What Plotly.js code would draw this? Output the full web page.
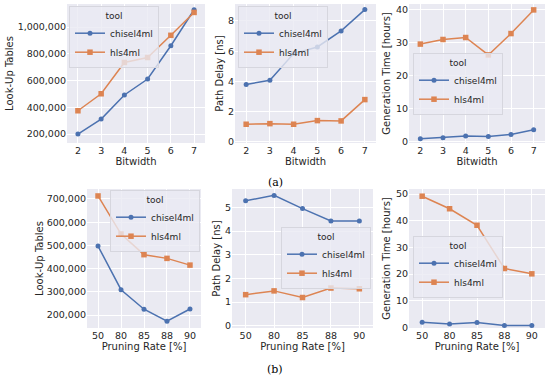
<!DOCTYPE html>
<html>
<head>
<meta charset="utf-8">
<script src="https://cdn.plot.ly/plotly-3.0.1.min.js"></script>
<style>html,body{margin:0;padding:0;background:#fff;}#chart{width:550px;height:379px;}</style>
</head>
<body>
<div id="chart"></div>
<script>
// ---- data ----
const tools = ["chisel4ml", "hls4ml"];
const bitwidths = [2, 3, 4, 5, 6, 7];
const pruningRates = ["50", "80", "85", "88", "90"];

const lutBitChisel = [200000, 312000, 492000, 611000, 860000, 1129000];
const lutBitHls = [374000, 501000, 735000, 772000, 938000, 1109000];
const delayBitChisel = [3.8, 4.08, 5.84, 6.28, 7.34, 8.75];
const delayBitHls = [1.17, 1.21, 1.17, 1.41, 1.39, 2.8];
const genBitChisel = [0.8, 1.1, 1.6, 1.5, 2.1, 3.5];
const genBitHls = [29.6, 31.0, 31.6, 26.3, 32.8, 40.0];

const lutPruneChisel = [497000, 309000, 225000, 173000, 226000];
const lutPruneHls = [713000, 549000, 460000, 444000, 415000];
const delayPruneChisel = [5.28, 5.51, 4.95, 4.43, 4.43];
const delayPruneHls = [1.31, 1.47, 1.19, 1.59, 1.56];
const genPruneChisel = [2.0, 1.3, 1.9, 0.75, 0.75];
const genPruneHls = [49.2, 44.5, 38.3, 22.1, 20.1];

const xLabels = ["Bitwidth", "Pruning Rate [%]"];
const yLabels = ["Look-Up Tables", "Path Delay [ns]", "Generation Time [hours]"];
const subLabels = ["(a)", "(b)"];

// ---- styling ----
const BLUE = "#4C72B0", ORANGE = "#DD8452", TXT = "#262626";
const W = 550, H = 379;
const FONT = "DejaVu Sans, sans-serif";

const panels = [
  {x: bitwidths, c: lutBitChisel, h: lutBitHls, xd: [67, 205], yd: [4, 143], yr: [133000, 1172000], dt: 200000, fmt: ",", xr: [1.53, 7.47], yl: 0, xl: 0, leg: [69, 6, "left"], so: 2},
  {x: bitwidths, c: delayBitChisel, h: delayBitHls, xd: [235, 376], yd: [4, 143], yr: [-0.07, 9.12], dt: 2, fmt: "", xr: [1.53, 7.47], yl: 1, xl: 0, leg: [238, 6, "left"], so: 2},
  {x: bitwidths, c: genBitChisel, h: genBitHls, xd: [409, 545], yd: [4, 143], yr: [-0.5, 41.8], dt: 10, fmt: "", xr: [1.5, 7.5], yl: 2, xl: 0, leg: [413, 53, "left"], so: 3},
  {x: pruningRates, c: lutPruneChisel, h: lutPruneHls, xd: [87, 201], yd: [189, 328], yr: [144000, 743000], dt: 100000, fmt: ",", xr: [-0.48, 4.48], yl: 0, xl: 1, leg: [200, 190, "right"], so: null},
  {x: pruningRates, c: delayPruneChisel, h: delayPruneHls, xd: [232, 373], yd: [189, 328], yr: [-0.1, 5.78], dt: 1, fmt: "", xr: [-0.48, 4.48], yl: 1, xl: 1, leg: [371, 227, "right"], so: 2},
  {x: pruningRates, c: genPruneChisel, h: genPruneHls, xd: [409, 545], yd: [189, 328], yr: [-0.2, 51.9], dt: 10, fmt: "", xr: [-0.48, 4.48], yl: 2, xl: 1, leg: [413, 236, "left"], so: 3}
];

const data = [];
const layout = {
  width: W, height: H,
  margin: {l: 0, r: 0, t: 0, b: 0},
  paper_bgcolor: "#ffffff",
  plot_bgcolor: "#EAEAF2",
  font: {family: FONT, size: 9, color: TXT},
  showlegend: true,
  annotations: []
};

panels.forEach((p, i) => {
  const n = i + 1;
  const xa = n === 1 ? "x" : "x" + n;
  const ya = n === 1 ? "y" : "y" + n;
  const lg = n === 1 ? "legend" : "legend" + n;
  data.push({
    x: p.x, y: p.c, name: tools[0], type: "scatter", mode: "lines+markers",
    xaxis: xa, yaxis: ya, legend: lg,
    line: {color: BLUE, width: 1.5}, marker: {symbol: "circle", size: 5, color: BLUE}
  });
  data.push({
    x: p.x, y: p.h, name: tools[1], type: "scatter", mode: "lines+markers",
    xaxis: xa, yaxis: ya, legend: lg,
    line: {color: ORANGE, width: 1.5}, marker: {symbol: "square", size: 5.5, color: ORANGE}
  });
  const xkey = n === 1 ? "xaxis" : "xaxis" + n;
  const ykey = n === 1 ? "yaxis" : "yaxis" + n;
  layout[xkey] = {
    domain: [p.xd[0] / W, p.xd[1] / W],
    anchor: ya,
    type: p.xl === 1 ? "category" : "linear",
    range: p.xr,
    dtick: 1,
    showgrid: true, gridcolor: "#ffffff", gridwidth: 1,
    zeroline: false, showline: false, ticks: "",
    tickfont: {size: 9.5, color: TXT},
    title: {text: xLabels[p.xl], font: {size: 10, color: TXT}, standoff: 2}
  };
  const ytitle = {text: yLabels[p.yl], font: {size: 10, color: TXT}};
  if (p.so !== null) ytitle.standoff = p.so;
  layout[ykey] = {
    domain: [1 - p.yd[1] / H, 1 - p.yd[0] / H],
    anchor: xa,
    range: p.yr,
    dtick: p.dt, tick0: 0,
    tickformat: p.fmt,
    separatethousands: true,
    showgrid: true, gridcolor: "#ffffff", gridwidth: 1,
    zeroline: false, showline: false, ticks: "",
    tickfont: {size: 9.5, color: TXT},
    title: ytitle
  };
  layout[lg] = {
    x: p.leg[0] / W, y: 1 - p.leg[1] / H, xanchor: p.leg[2], yanchor: "top",
    bgcolor: "rgba(234,234,242,0.8)", bordercolor: "#d6d6de", borderwidth: 1,
    font: {size: 9, color: TXT},
    title: {text: "tool", side: "top center", font: {size: 9, color: TXT}},
    itemwidth: 30, tracegroupgap: 0
  };
});

layout.annotations.push({
  text: subLabels[0], xref: "paper", yref: "paper", x: 275 / W, y: 1 - 182 / H,
  xanchor: "center", yanchor: "middle", showarrow: false,
  font: {family: "DejaVu Serif, serif", size: 11, color: "#000"}
});
layout.annotations.push({
  text: subLabels[1], xref: "paper", yref: "paper", x: 275 / W, y: 1 - 369 / H,
  xanchor: "center", yanchor: "middle", showarrow: false,
  font: {family: "DejaVu Serif, serif", size: 11, color: "#000"}
});

Plotly.newPlot("chart", data, layout, {displayModeBar: false, staticPlot: true});
</script>
</body>
</html>
